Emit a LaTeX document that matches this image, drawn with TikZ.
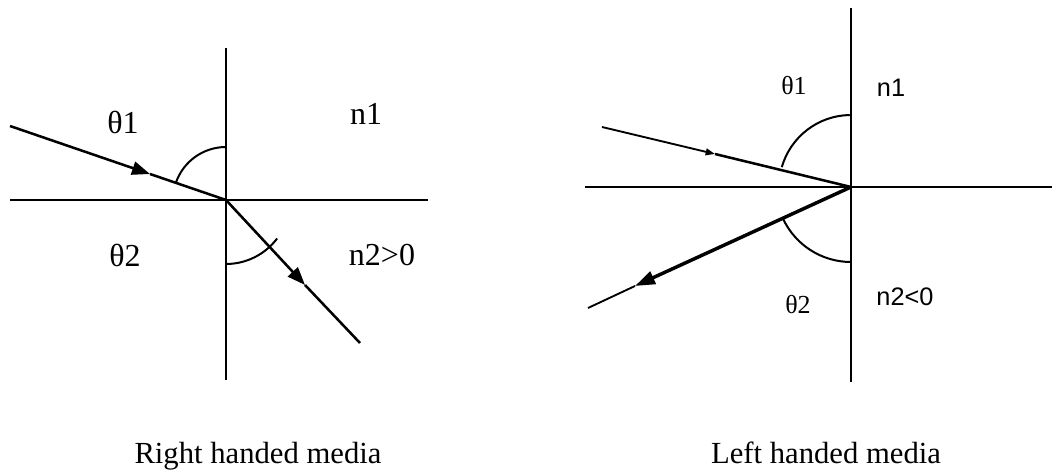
\documentclass[tikz,border=0pt]{standalone}
\usepackage{fontspec}
\setmainfont{Liberation Serif}
\newfontfamily\arialfont{Liberation Sans}
\usetikzlibrary{arrows.meta}
\begin{document}
\begin{tikzpicture}[x=0.75pt,y=0.75pt,
    axis/.style={line width=1.5pt},
    ray/.style={line width=1.9pt},
    thinray/.style={line width=1.4pt},
    fatray/.style={line width=2.6pt},
    ang/.style={line width=1.5pt},
    bigtip/.style={-{Triangle[length=13.5pt,width=10pt]}},
    lbl/.style={inner sep=0pt,font=\fontsize{24}{28}\selectfont},
    slbl/.style={inner sep=0pt,font=\fontsize{19.5}{23}\selectfont},
    albl/.style={inner sep=0pt,font=\arialfont\fontsize{19}{23}\selectfont},
    captxt/.style={inner sep=0pt,anchor=base,font=\fontsize{23}{27}\selectfont}]
  \useasboundingbox (0,0) rectangle (1054,475);
  % right handed media
  \coordinate (O1) at (226,275);
  \coordinate (V1t) at (226,427);
  \coordinate (V1b) at (226,95);
  \coordinate (H1l) at (10,275);
  \coordinate (H1r) at (428,275);
  \coordinate (A1) at (10,349);
  \coordinate (T1) at (150,301);
  \coordinate (T2) at (305,190);
  \coordinate (B1) at (360,132);
  \draw[axis] (V1t) -- (V1b);
  \draw[axis] (H1l) -- (H1r);
  \draw[ray,bigtip] (A1) -- (T1);
  \draw[ray] (T1) -- (O1);
  \draw[ray,bigtip] (O1) -- (T2);
  \draw[ray] (T2) -- (B1);
  \draw[ang] (O1) ++(90:53) arc[start angle=90,end angle=161,radius=53];
  \draw[ang] (O1) ++(-90:64) arc[start angle=-90,end angle=-37,radius=64];
  \node[lbl] (th1a) at (123,353) {θ1};
  \node[lbl] (n1a) at (366,361) {n1};
  \node[lbl] (th2a) at (125,220) {θ2};
  \node[lbl] (n2a) at (382,220) {n2>0};
  \node[captxt] (capa) at (258,11) {Right handed media};
  % left handed media
  \coordinate (O2) at (851,288);
  \coordinate (V2t) at (851,467);
  \coordinate (V2b) at (851,93);
  \coordinate (H2l) at (585,288);
  \coordinate (H2r) at (1052,288);
  \coordinate (A2) at (602,348);
  \coordinate (T3) at (715,321);
  \coordinate (T4) at (635,189);
  \coordinate (B2) at (588,167);
  \draw[axis] (V2t) -- (V2b);
  \draw[axis] (H2l) -- (H2r);
  \draw[thinray,-{Triangle[length=7pt,width=5pt]}] (A2) -- (T3);
  \draw[ray] (T3) -- (O2);
  \draw[fatray,-{Triangle[length=15pt,width=10pt]}] (O2) -- (T4);
  \draw[thinray] (T4) -- (B2);
  \draw[ang] (O2) ++(91:72) arc[start angle=91,end angle=164,radius=72];
  \draw[ang] (O2) ++(205:75) arc[start angle=205,end angle=270,radius=75];
  \node[slbl] (th1b) at (794,389) {θ1};
  \node[albl] (n1b) at (891,387) {n1};
  \node[slbl] (th2b) at (798,170) {θ2};
  \node[albl] (n2b) at (905,178) {n2<0};
  \node[captxt] (capb) at (826,11) {Left handed media};
\end{tikzpicture}
\end{document}
